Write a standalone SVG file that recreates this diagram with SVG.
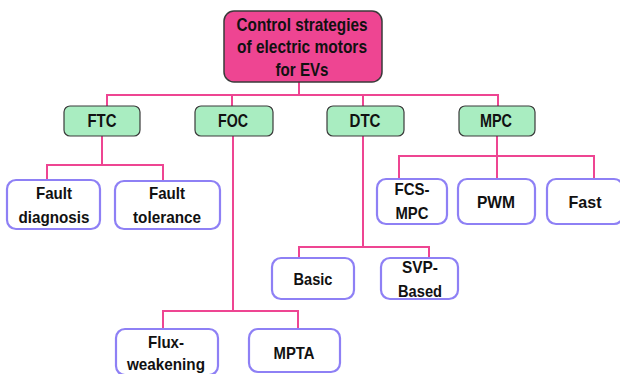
<svg xmlns="http://www.w3.org/2000/svg" width="620" height="374" viewBox="0 0 620 374">
<style>
.root{fill:#ee4592;stroke:#3a3a3a;stroke-width:1.5}
.cat{fill:#a9edc1;stroke:#3a3a3a;stroke-width:1.2}
.leaf{fill:#ffffff;stroke:#8e80f5;stroke-width:2.2}
.t{font-family:"Liberation Sans",Arial,sans-serif;font-weight:bold;font-size:17px;fill:#111;text-anchor:middle}
.tr{font-size:19px}
.tc{font-size:17.5px}
.c line,.c polyline{stroke:#ee4592;stroke-width:2;fill:none}
</style>
<rect width="620" height="374" fill="#ffffff"/>
<g class="c" id="connectors">
<line x1="299" y1="82" x2="299" y2="95"/>
<polyline points="107,106 107,95 498,95 498,106"/>
<line x1="232" y1="95" x2="232" y2="106"/>
<line x1="363" y1="95" x2="363" y2="106"/>
<polyline points="102,136 102,165"/>
<polyline points="47,180 47,165 163,165 163,180"/>
<line x1="233" y1="136" x2="233" y2="311"/>
<polyline points="163,329 163,311 298,311 298,329"/>
<line x1="363" y1="136" x2="363" y2="247"/>
<polyline points="299,258 299,247 429,247 429,258"/>
<line x1="497" y1="136" x2="497" y2="179"/>
<polyline points="399,179 399,156 594,156 594,179"/>
</g>
<g id="root">
<rect class="root" x="224" y="11" width="158" height="71" rx="10"/>
<text class="t tr" x="302" y="31" textLength="131" lengthAdjust="spacingAndGlyphs">Control strategies</text>
<text class="t tr" x="302" y="53" textLength="130" lengthAdjust="spacingAndGlyphs">of electric motors</text>
<text class="t tr" x="302" y="76" textLength="53" lengthAdjust="spacingAndGlyphs">for EVs</text>
</g>
<g id="ftc">
<rect class="cat" x="64" y="106" width="76" height="30" rx="6"/>
<text class="t tc" x="102" y="127" textLength="29" lengthAdjust="spacingAndGlyphs">FTC</text>
</g>
<g id="foc">
<rect class="cat" x="195" y="106" width="78" height="30" rx="6"/>
<text class="t tc" x="233" y="127" textLength="30" lengthAdjust="spacingAndGlyphs">FOC</text>
</g>
<g id="dtc">
<rect class="cat" x="327" y="106" width="77" height="30" rx="6"/>
<text class="t tc" x="365" y="127" textLength="31" lengthAdjust="spacingAndGlyphs">DTC</text>
</g>
<g id="mpc">
<rect class="cat" x="459" y="106" width="76" height="30" rx="6"/>
<text class="t tc" x="496" y="127" textLength="32" lengthAdjust="spacingAndGlyphs">MPC</text>
</g>
<g id="fault-diagnosis">
<rect class="leaf" x="7" y="180" width="93" height="49" rx="9"/>
<text class="t" x="54" y="199" textLength="36" lengthAdjust="spacingAndGlyphs">Fault</text>
<text class="t" x="54" y="223" textLength="71" lengthAdjust="spacingAndGlyphs">diagnosis</text>
</g>
<g id="fault-tolerance">
<rect class="leaf" x="115" y="181" width="105" height="48" rx="9"/>
<text class="t" x="167" y="199" textLength="36" lengthAdjust="spacingAndGlyphs">Fault</text>
<text class="t" x="167" y="223" textLength="68" lengthAdjust="spacingAndGlyphs">tolerance</text>
</g>
<g id="fcs-mpc">
<rect class="leaf" x="377" y="179" width="70" height="45" rx="9"/>
<text class="t" x="412" y="195" textLength="35" lengthAdjust="spacingAndGlyphs">FCS-</text>
<text class="t" x="412" y="219" textLength="33" lengthAdjust="spacingAndGlyphs">MPC</text>
</g>
<g id="pwm">
<rect class="leaf" x="458" y="179" width="77" height="45" rx="9"/>
<text class="t" x="496" y="208" textLength="38" lengthAdjust="spacingAndGlyphs">PWM</text>
</g>
<g id="fast">
<rect class="leaf" x="547" y="179" width="76" height="45" rx="9"/>
<text class="t" x="585" y="208" textLength="33" lengthAdjust="spacingAndGlyphs">Fast</text>
</g>
<g id="basic">
<rect class="leaf" x="272" y="258" width="82" height="41" rx="9"/>
<text class="t" x="313" y="285" textLength="39" lengthAdjust="spacingAndGlyphs">Basic</text>
</g>
<g id="svp-based">
<rect class="leaf" x="381" y="258" width="77" height="41" rx="9"/>
<text class="t" x="420" y="273" textLength="36" lengthAdjust="spacingAndGlyphs">SVP-</text>
<text class="t" x="420" y="297" textLength="44" lengthAdjust="spacingAndGlyphs">Based</text>
</g>
<g id="flux-weakening">
<rect class="leaf" x="116" y="329" width="102" height="46" rx="9"/>
<text class="t" x="166" y="348" textLength="36" lengthAdjust="spacingAndGlyphs">Flux-</text>
<text class="t" x="166" y="370" textLength="78" lengthAdjust="spacingAndGlyphs">weakening</text>
</g>
<g id="mpta">
<rect class="leaf" x="249" y="329" width="91" height="43" rx="9"/>
<text class="t" x="294" y="359" textLength="41" lengthAdjust="spacingAndGlyphs">MPTA</text>
</g>
</svg>
